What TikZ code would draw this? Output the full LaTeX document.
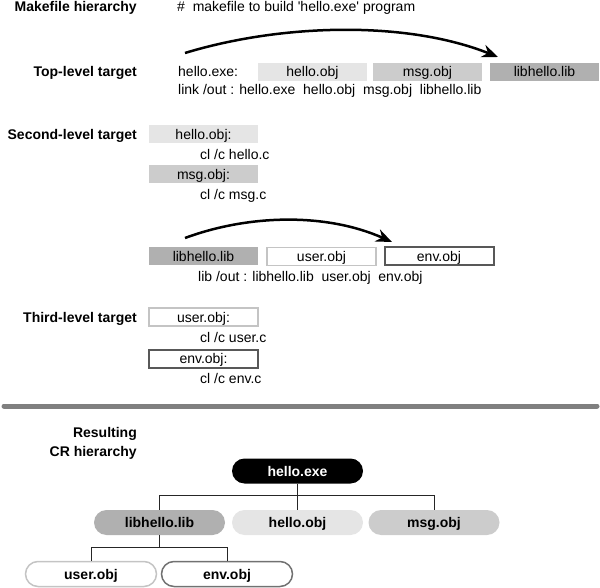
\documentclass[tikz,border=0pt]{standalone}
\usepackage{fontspec}
\setmainfont{Liberation Sans}
\usetikzlibrary{arrows.meta}
\definecolor{objlight}{HTML}{E5E5E5}
\definecolor{objmid}{HTML}{CCCCCC}
\definecolor{objdark}{HTML}{B0B0B0}
\definecolor{userline}{HTML}{C4C4C4}
\definecolor{envline}{HTML}{585858}
\definecolor{sepgray}{HTML}{808080}

\begin{document}
\begin{tikzpicture}[x=1pt,y=-1pt,
  font=\fontsize{14}{16}\selectfont,
  every node/.style={inner sep=0pt,text height=10pt,text depth=0pt},
  heading/.style={anchor=east,font=\fontsize{14}{16}\selectfont\bfseries},
  code/.style={anchor=west},
  target/.style={minimum width=109pt,minimum height=18pt},
  pill/.style={rounded corners=12.5pt,minimum width=131pt,minimum height=25pt,
    font=\fontsize{14}{16}\selectfont\bfseries},
  flow/.style={line width=2.5pt,-{Stealth[length=16pt,width=13pt]}},
  branch/.style={line width=1pt,black!85}]
\useasboundingbox (0,0) rectangle (600,588);

% makefile
\node[heading] (mkh) at (137,7) {Makefile hierarchy};
\node[code] (cmt) at (177,7) {\#\ \ makefile to build \textquotesingle hello.exe\textquotesingle\ program};

% top level
\node[heading] (top) at (137,72) {Top-level target};
\node[code] (exe) at (178,72) {hello.exe:};
\node[target,fill=objlight] (t1) at (312.5,72) {hello.obj};
\node[target,fill=objmid] (t2) at (427.5,72) {msg.obj};
\node[target,fill=objdark] (t3) at (544.5,72) {libhello.lib};
\node[code] (lnk) at (178,89.5) {link /out : hello.exe\ \ hello.obj\ \ msg.obj\ \ libhello.lib};
\coordinate (a1) at (185,53);
\coordinate (a2) at (498,57);
\draw[flow] (a1) .. controls (280,24) and (405,20) .. (a2);

% second level
\node[heading] (sec) at (137,134.5) {Second-level target};
\node[target,fill=objlight] (s1) at (203.5,134.5) {hello.obj:};
\node[code] (c1) at (200,154.5) {cl /c hello.c};
\node[target,fill=objmid] (s2) at (203.5,174.5) {msg.obj:};
\node[code] (c2) at (200,194.5) {cl /c msg.c};
\node[target,fill=objdark] (s3) at (203.5,256.5) {libhello.lib};
\node[target,draw=userline,line width=1.5pt] (s4) at (321.5,256.5) {user.obj};
\node[target,draw=envline,line width=2pt] (s5) at (439,256.5) {env.obj};
\node[code] (c3) at (198,276) {lib /out : libhello.lib\ \ user.obj\ \ env.obj};
\coordinate (b1) at (185,238);
\coordinate (b2) at (392,242);
\draw[flow] (b1) .. controls (250,214) and (327,213) .. (b2);

% third level
\node[heading] (thd) at (137,317) {Third-level target};
\node[target,draw=userline,line width=1.5pt] (u1) at (203.5,317) {user.obj:};
\node[code] (c4) at (200,337) {cl /c user.c};
\node[target,draw=envline,line width=2pt] (e1) at (203.5,358.5) {env.obj:};
\node[code] (c5) at (200,378.5) {cl /c env.c};

% separator
\coordinate (r1) at (4,406);
\coordinate (r2) at (597,406);
\draw[line width=5pt,sepgray,line cap=round] (r1) -- (r2);

% CR hierarchy
\node[heading] (res) at (137,432.5) {Resulting};
\node[heading] (crh) at (137,451) {CR hierarchy};
\node[pill,fill=black,text=white] (hexe) at (297.5,471) {hello.exe};
\node[pill,fill=objdark] (hlib) at (159.5,522.5) {libhello.lib};
\node[pill,fill=objlight] (hobj) at (297.5,522.5) {hello.obj};
\node[pill,fill=objmid] (hmsg) at (434,522.5) {msg.obj};
\node[pill,fill=white,draw=userline,line width=1.5pt] (husr) at (91,574) {user.obj};
\node[pill,fill=white,draw=envline!85,line width=1.5pt] (henv) at (227,574) {env.obj};
\draw[branch] (hexe) -- (hobj);
\draw[branch] (hlib.north) -- ++(0,-14) -| (hmsg.north);
\draw[branch] (hlib.south) -- ++(0,13);
\draw[branch] (husr.north) -- ++(0,-13) -| (henv.north);
\end{tikzpicture}
\end{document}
